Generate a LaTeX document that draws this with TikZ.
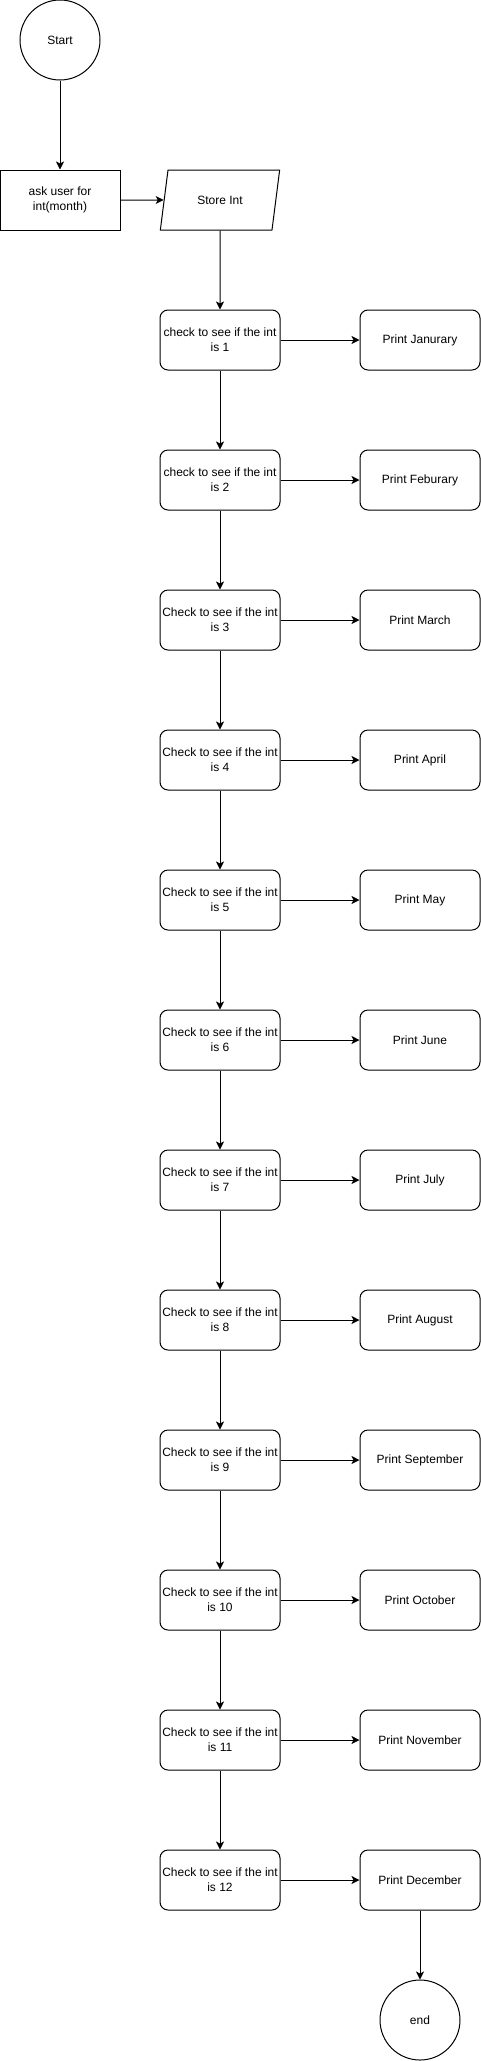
\documentclass[tikz,border=0pt]{standalone}
\usepackage{fontspec}
\setmainfont{Liberation Sans}
\usetikzlibrary{shapes.geometric,arrows.meta}
\tikzset{
	txt/.style={font=\fontsize{12}{15}\selectfont, align=center, inner sep=1pt},
	box/.style={txt, draw, minimum width=120pt, minimum height=60pt},
	rbox/.style={box, rounded corners=8pt},
	term/.style={txt, draw, circle, minimum size=80pt},
	data/.style={txt, draw, trapezium, trapezium left angle=71.57, trapezium right angle=108.43, trapezium stretches=true, minimum width=120pt, minimum height=60pt},
	flow/.style={-{Stealth[length=8pt, width=8pt, inset=2pt]}}
}
\begin{document}
\begin{tikzpicture}[x=1pt, y=-1pt, line width=1pt]
	\useasboundingbox (0,0) rectangle (481,2061);
	\node[term]  (start) at (60,40)    {Start};
	\node[box]   (ask)   at (60,200)   {ask user for\\int(month)};
	\node[data]  (store) at (220,200)  {Store Int};
	\node[rbox]  (c1)    at (220,340)  {check to see if the int\\is 1};
	\node[rbox]  (c2)    at (220,480)  {check to see if the int\\is 2};
	\node[rbox]  (c3)    at (220,620)  {Check to see if the int\\is 3};
	\node[rbox]  (c4)    at (220,760)  {Check to see if the int\\is 4};
	\node[rbox]  (c5)    at (220,900)  {Check to see if the int\\is 5};
	\node[rbox]  (c6)    at (220,1040) {Check to see if the int\\is 6};
	\node[rbox]  (c7)    at (220,1180) {Check to see if the int\\is 7};
	\node[rbox]  (c8)    at (220,1320) {Check to see if the int\\is 8};
	\node[rbox]  (c9)    at (220,1460) {Check to see if the int\\is 9};
	\node[rbox]  (c10)   at (220,1600) {Check to see if the int\\is 10};
	\node[rbox]  (c11)   at (220,1740) {Check to see if the int\\is 11};
	\node[rbox]  (c12)   at (220,1880) {Check to see if the int\\is 12};
	\node[rbox]  (p1)    at (420,340)  {Print Janurary};
	\node[rbox]  (p2)    at (420,480)  {Print Feburary};
	\node[rbox]  (p3)    at (420,620)  {Print March};
	\node[rbox]  (p4)    at (420,760)  {Print April};
	\node[rbox]  (p5)    at (420,900)  {Print May};
	\node[rbox]  (p6)    at (420,1040) {Print June};
	\node[rbox]  (p7)    at (420,1180) {Print July};
	\node[rbox]  (p8)    at (420,1320) {Print August};
	\node[rbox]  (p9)    at (420,1460) {Print September};
	\node[rbox]  (p10)   at (420,1600) {Print October};
	\node[rbox]  (p11)   at (420,1740) {Print November};
	\node[rbox]  (p12)   at (420,1880) {Print December};
	\node[term]  (end)   at (420,2020) {end};
	\draw[flow] (start) -- (ask);
	\draw[flow] (ask)   -- (store);
	\draw[flow] (store) -- (c1);
	\draw[flow] (c1)  -- (c2);
	\draw[flow] (c2)  -- (c3);
	\draw[flow] (c3)  -- (c4);
	\draw[flow] (c4)  -- (c5);
	\draw[flow] (c5)  -- (c6);
	\draw[flow] (c6)  -- (c7);
	\draw[flow] (c7)  -- (c8);
	\draw[flow] (c8)  -- (c9);
	\draw[flow] (c9)  -- (c10);
	\draw[flow] (c10) -- (c11);
	\draw[flow] (c11) -- (c12);
	\draw[flow] (c1)  -- (p1);
	\draw[flow] (c2)  -- (p2);
	\draw[flow] (c3)  -- (p3);
	\draw[flow] (c4)  -- (p4);
	\draw[flow] (c5)  -- (p5);
	\draw[flow] (c6)  -- (p6);
	\draw[flow] (c7)  -- (p7);
	\draw[flow] (c8)  -- (p8);
	\draw[flow] (c9)  -- (p9);
	\draw[flow] (c10) -- (p10);
	\draw[flow] (c11) -- (p11);
	\draw[flow] (c12) -- (p12);
	\draw[flow] (p12) -- (end);
\end{tikzpicture}
\end{document}
